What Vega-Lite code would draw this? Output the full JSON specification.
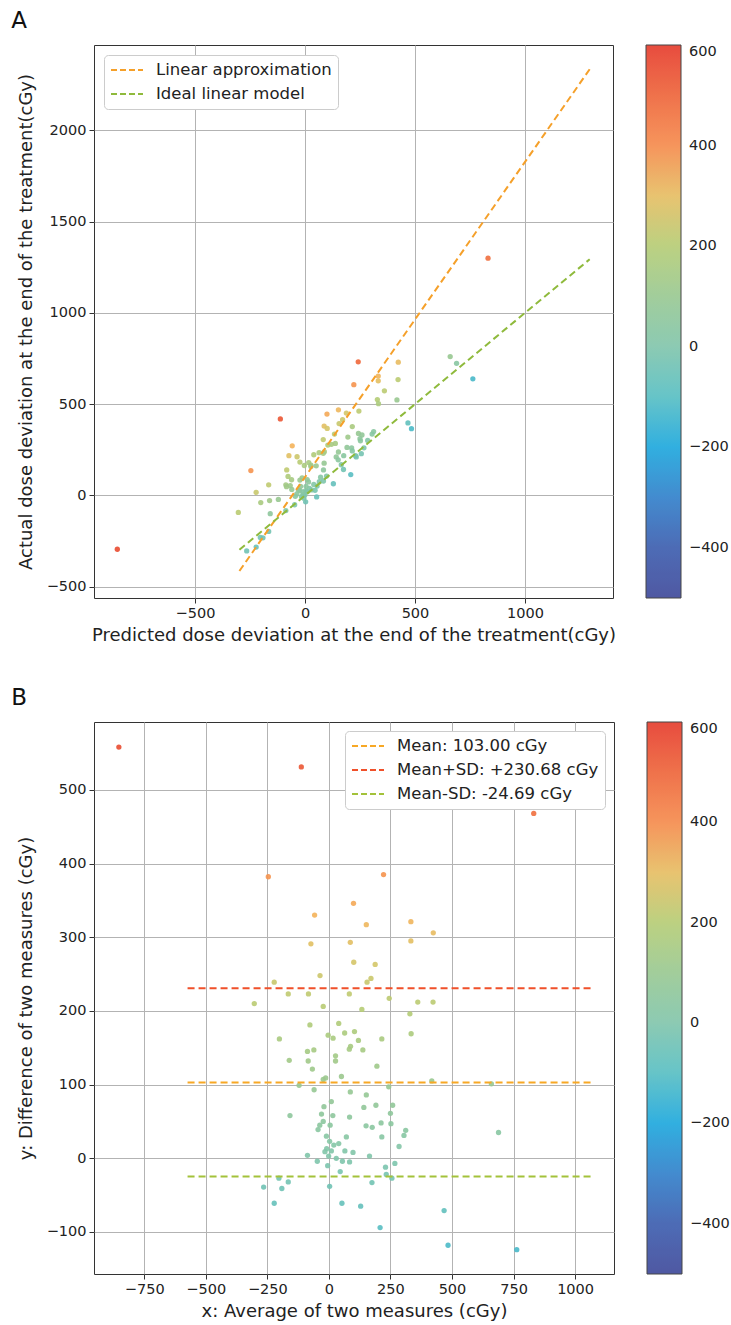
{
  "$schema": "https://vega.github.io/schema/vega-lite/v6.json",
  "padding": {"left": 10, "top": 9, "right": 0, "bottom": 0},
  "background": "white",
  "datasets": {
    "pts": [
      {"pred": -853, "diff": 558, "actual": -295},
      {"pred": -112, "diff": 531, "actual": 419},
      {"pred": 832, "diff": 468, "actual": 1300},
      {"pred": 242, "diff": 490, "actual": 732},
      {"pred": -246, "diff": 382, "actual": 136},
      {"pred": 222, "diff": 385, "actual": 607},
      {"pred": 100, "diff": 346, "actual": 446},
      {"pred": -58, "diff": 330, "actual": 272},
      {"pred": 152, "diff": 317, "actual": 469},
      {"pred": 333, "diff": 321, "actual": 654},
      {"pred": 424, "diff": 306, "actual": 730},
      {"pred": 333, "diff": 295, "actual": 628},
      {"pred": -73, "diff": 291, "actual": 218},
      {"pred": 87, "diff": 293, "actual": 380},
      {"pred": 101, "diff": 266, "actual": 367},
      {"pred": 188, "diff": 263, "actual": 451},
      {"pred": -36, "diff": 248, "actual": 212},
      {"pred": 171, "diff": 244, "actual": 415},
      {"pred": 155, "diff": 239, "actual": 394},
      {"pred": -222, "diff": 239, "actual": 17},
      {"pred": -165, "diff": 223, "actual": 58},
      {"pred": -83, "diff": 223, "actual": 140},
      {"pred": 83, "diff": 223, "actual": 306},
      {"pred": -303, "diff": 210, "actual": -93},
      {"pred": 245, "diff": 217, "actual": 462},
      {"pred": 361, "diff": 212, "actual": 573},
      {"pred": 423, "diff": 212, "actual": 635},
      {"pred": -23, "diff": 206, "actual": 183},
      {"pred": 134, "diff": 202, "actual": 336},
      {"pred": 329, "diff": 196, "actual": 525},
      {"pred": -77, "diff": 181, "actual": 104},
      {"pred": 40, "diff": 183, "actual": 223},
      {"pred": 104, "diff": 172, "actual": 276},
      {"pred": 64, "diff": 170, "actual": 234},
      {"pred": 334, "diff": 169, "actual": 503},
      {"pred": -3, "diff": 167, "actual": 164},
      {"pred": 17, "diff": 163, "actual": 180},
      {"pred": 120, "diff": 160, "actual": 280},
      {"pred": 215, "diff": 162, "actual": 377},
      {"pred": -201, "diff": 162, "actual": -39},
      {"pred": 88, "diff": 152, "actual": 240},
      {"pred": 83, "diff": 148, "actual": 231},
      {"pred": 138, "diff": 147, "actual": 285},
      {"pred": -61, "diff": 147, "actual": 86},
      {"pred": -87, "diff": 145, "actual": 58},
      {"pred": 27, "diff": 139, "actual": 166},
      {"pred": 27, "diff": 132, "actual": 159},
      {"pred": -161, "diff": 133, "actual": -28},
      {"pred": -84, "diff": 132, "actual": 48},
      {"pred": 195, "diff": 125, "actual": 320},
      {"pred": -67, "diff": 121, "actual": 54},
      {"pred": 51, "diff": 111, "actual": 162},
      {"pred": -23, "diff": 107, "actual": 84},
      {"pred": -13, "diff": 109, "actual": 96},
      {"pred": 418, "diff": 105, "actual": 523},
      {"pred": 660, "diff": 101, "actual": 761},
      {"pred": -121, "diff": 99, "actual": -22},
      {"pred": 243, "diff": 97, "actual": 340},
      {"pred": -60, "diff": 93, "actual": 33},
      {"pred": 87, "diff": 90, "actual": 177},
      {"pred": 152, "diff": 86, "actual": 238},
      {"pred": 10, "diff": 77, "actual": 87},
      {"pred": 191, "diff": 72, "actual": 263},
      {"pred": 142, "diff": 69, "actual": 211},
      {"pred": 259, "diff": 72, "actual": 331},
      {"pred": -158, "diff": 58, "actual": -100},
      {"pred": 16, "diff": 58, "actual": 74},
      {"pred": 84, "diff": 56, "actual": 140},
      {"pred": 250, "diff": 61, "actual": 311},
      {"pred": 252, "diff": 47, "actual": 299},
      {"pred": 212, "diff": 48, "actual": 260},
      {"pred": -23, "diff": 50, "actual": 27},
      {"pred": -37, "diff": 45, "actual": 8},
      {"pred": 151, "diff": 44, "actual": 195},
      {"pred": 176, "diff": 42, "actual": 218},
      {"pred": -44, "diff": 39, "actual": -5},
      {"pred": 312, "diff": 38, "actual": 350},
      {"pred": 689, "diff": 35, "actual": 724},
      {"pred": 215, "diff": 29, "actual": 244},
      {"pred": 71, "diff": 29, "actual": 100},
      {"pred": 305, "diff": 31, "actual": 336},
      {"pred": 3, "diff": 23, "actual": 26},
      {"pred": 285, "diff": 16, "actual": 301},
      {"pred": 20, "diff": 18, "actual": 38},
      {"pred": -9, "diff": 13, "actual": 4},
      {"pred": -16, "diff": 9, "actual": -7},
      {"pred": 65, "diff": 10, "actual": 75},
      {"pred": 98, "diff": 8, "actual": 106},
      {"pred": -87, "diff": 4, "actual": -83},
      {"pred": 165, "diff": 3, "actual": 168},
      {"pred": -1, "diff": 3, "actual": 2},
      {"pred": -47, "diff": -4, "actual": -51},
      {"pred": 55, "diff": -4, "actual": 51},
      {"pred": 84, "diff": -5, "actual": 79},
      {"pred": 268, "diff": -7, "actual": 261},
      {"pred": 230, "diff": -12, "actual": 218},
      {"pred": 46, "diff": -18, "actual": 28},
      {"pred": 233, "diff": -22, "actual": 211},
      {"pred": 256, "diff": -27, "actual": 229},
      {"pred": -203, "diff": -27, "actual": -230},
      {"pred": -165, "diff": -32, "actual": -197},
      {"pred": 175, "diff": -33, "actual": 142},
      {"pred": -265, "diff": -39, "actual": -304},
      {"pred": -191, "diff": -41, "actual": -232},
      {"pred": 3, "diff": -38, "actual": -35},
      {"pred": -222, "diff": -61, "actual": -283},
      {"pred": 53, "diff": -61, "actual": -8},
      {"pred": 129, "diff": -65, "actual": 64},
      {"pred": 468, "diff": -71, "actual": 397},
      {"pred": 208, "diff": -94, "actual": 114},
      {"pred": 484, "diff": -118, "actual": 366},
      {"pred": 763, "diff": -124, "actual": 639},
      {"pred": -10, "diff": 30, "actual": 20},
      {"pred": 5, "diff": 45, "actual": 50},
      {"pred": -30, "diff": 60, "actual": 30},
      {"pred": 10, "diff": 10, "actual": 20},
      {"pred": 30, "diff": 0, "actual": 30},
      {"pred": -20, "diff": 70, "actual": 50},
      {"pred": -5, "diff": -10, "actual": -15},
      {"pred": 40, "diff": 20, "actual": 60}
    ],
    "linesA": [
      {"series": "Linear approximation", "pred": -298, "actual": -414},
      {"series": "Linear approximation", "pred": 1294, "actual": 2335},
      {"series": "Ideal linear model", "pred": -298, "actual": -298},
      {"series": "Ideal linear model", "pred": 1294, "actual": 1294}
    ],
    "linesB": [
      {"series": "Mean: 103.00 cGy", "pred": -574, "diff": 103.0},
      {"series": "Mean: 103.00 cGy", "pred": 1066, "diff": 103.0},
      {"series": "Mean+SD: +230.68 cGy", "pred": -574, "diff": 230.68},
      {"series": "Mean+SD: +230.68 cGy", "pred": 1066, "diff": 230.68},
      {"series": "Mean-SD: -24.69 cGy", "pred": -574, "diff": -24.69},
      {"series": "Mean-SD: -24.69 cGy", "pred": 1066, "diff": -24.69}
    ]
  },
  "vconcat": [
    {
      "title": {"text": "A", "offset": 12, "frame": "bounds", "dx": -6},
      "width": 519,
      "height": 553,
      "layer": [
        {
          "data": {"name": "pts"},
          "mark": {"type": "circle", "size": 28, "opacity": 0.9},
          "encoding": {
            "x": {"field": "pred", "type": "quantitative", "scale": {"domain": [-959, 1400], "nice": false, "zero": false}, "axis": {"values": [-500, 0, 500, 1000], "format": "d", "title": "Predicted dose deviation at the end of the treatment(cGy)"}},
            "y": {"field": "actual", "type": "quantitative", "scale": {"domain": [-562, 2468], "nice": false, "zero": false}, "axis": {"values": [-500, 0, 500, 1000, 1500, 2000], "format": "d", "title": "Actual dose deviation at the end of the treatment(cGy)"}},
            "fill": {"field": "diff", "type": "quantitative",
              "scale": {"type": "linear", "interpolate": "rgb", "domain": [-500, -400, -300, -200, -100, 0, 100, 200, 280, 330, 400, 500, 600], "range": ["#3d4799", "#3a5cae", "#2f7fca", "#1ba7dd", "#56bec3", "#80c5ab", "#98c891", "#b5cc74", "#dcc466", "#f4b25a", "#f58a4b", "#ee6338", "#e5392a"]},
              "legend": {"title": null, "orient": "right", "offset": 33, "direction": "vertical", "gradientLength": 553, "gradientThickness": 35, "values": [-400, -200, 0, 200, 400, 600], "format": "d", "labelFontSize": 14.5, "labelOffset": 8, "labelOverlap": false, "gradientStrokeColor": "#333", "gradientStrokeWidth": 1,
                "encode": {"labels": {"update": {"baseline": {"value": "middle"}}}}}}
          }
        },
        {
          "data": {"name": "linesA"},
          "mark": {"type": "line", "strokeDash": [7, 4], "strokeWidth": 2},
          "encoding": {
            "x": {"field": "pred", "type": "quantitative"},
            "y": {"field": "actual", "type": "quantitative"},
            "stroke": {"field": "series", "type": "nominal",
              "scale": {"domain": ["Linear approximation", "Ideal linear model"], "range": ["#f5a02a", "#8fba3c"]},
              "legend": {"title": null, "orient": "top-left", "offset": 10, "symbolType": "M-1,0H3", "symbolDash": [6, 3], "symbolStrokeWidth": 2, "symbolSize": 256, "labelFontSize": 16.5, "labelLimit": 400, "fillColor": "white", "strokeColor": "#cccccc", "cornerRadius": 4, "padding": 6, "rowPadding": 6, "labelOffset": 28}}
          }
        }
      ]
    },
    {
      "title": {"text": "B", "offset": 12, "frame": "bounds", "dx": -6},
      "width": 520,
      "height": 552,
      "layer": [
        {
          "data": {"name": "pts"},
          "mark": {"type": "circle", "size": 28, "opacity": 0.9},
          "encoding": {
            "x": {"field": "pred", "type": "quantitative", "scale": {"domain": [-954, 1158], "nice": false, "zero": false}, "axis": {"values": [-750, -500, -250, 0, 250, 500, 750, 1000], "format": "d", "title": "x: Average of two measures (cGy)"}},
            "y": {"field": "diff", "type": "quantitative", "scale": {"domain": [-157, 592], "nice": false, "zero": false}, "axis": {"values": [-100, 0, 100, 200, 300, 400, 500], "format": "d", "title": "y: Difference of two measures (cGy)"}},
            "fill": {"field": "diff", "type": "quantitative",
              "scale": {"type": "linear", "interpolate": "rgb", "domain": [-500, -400, -300, -200, -100, 0, 100, 200, 280, 330, 400, 500, 600], "range": ["#3d4799", "#3a5cae", "#2f7fca", "#1ba7dd", "#56bec3", "#80c5ab", "#98c891", "#b5cc74", "#dcc466", "#f4b25a", "#f58a4b", "#ee6338", "#e5392a"]},
              "legend": {"title": null, "orient": "right", "offset": 33, "direction": "vertical", "gradientLength": 552, "gradientThickness": 35, "values": [-400, -200, 0, 200, 400, 600], "format": "d", "labelFontSize": 14.5, "labelOffset": 8, "labelOverlap": false, "gradientStrokeColor": "#333", "gradientStrokeWidth": 1,
                "encode": {"labels": {"update": {"baseline": {"value": "middle"}}}}}}
          }
        },
        {
          "data": {"name": "linesB"},
          "mark": {"type": "line", "strokeDash": [7, 4], "strokeWidth": 2},
          "encoding": {
            "x": {"field": "pred", "type": "quantitative"},
            "y": {"field": "diff", "type": "quantitative"},
            "stroke": {"field": "series", "type": "nominal",
              "scale": {"domain": ["Mean: 103.00 cGy", "Mean+SD: +230.68 cGy", "Mean-SD: -24.69 cGy"], "range": ["#f7a825", "#f0502a", "#a3c23a"]},
              "legend": {"title": null, "orient": "top-right", "offset": 9, "symbolType": "M-1,0H3", "symbolDash": [6, 3], "symbolStrokeWidth": 2, "symbolSize": 256, "labelFontSize": 16.5, "labelLimit": 400, "fillColor": "white", "strokeColor": "#cccccc", "cornerRadius": 4, "padding": 6, "rowPadding": 6, "labelOffset": 28}}
          }
        }
      ]
    }
  ],
  "spacing": 41,
  "resolve": {"scale": {"fill": "independent", "stroke": "independent", "x": "independent", "y": "independent"}},
  "config": {
    "font": "DejaVu Sans",
    "view": {"stroke": "#333333", "strokeWidth": 1},
    "title": {"fontSize": 23, "fontWeight": "normal", "anchor": "start", "color": "#111"},
    "axis": {"grid": true, "gridColor": "#b3b3b3", "gridWidth": 1, "domain": false, "tickColor": "#333", "tickSize": 5, "labelFontSize": 14.5, "labelColor": "#222", "titleFontSize": 18, "titleFontWeight": "normal", "titleColor": "#222", "labelPadding": 3},
    "axisX": {"titlePadding": 7},
    "axisY": {"titlePadding": 11},
    "legend": {"labelColor": "#222"}
  }
}
